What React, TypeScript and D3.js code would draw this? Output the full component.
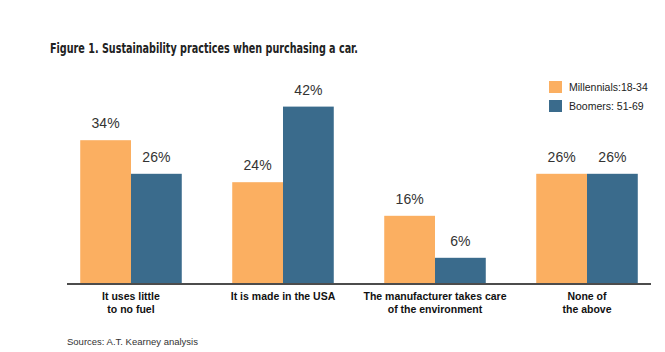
import * as d3 from 'd3';

const W = 665;
const H = 352;

// data
const categories = ['fuel', 'usa', 'environment', 'none'];
const categoryLabels = [
  ['It uses little', 'to no fuel'],
  ['It is made in the USA'],
  ['The manufacturer takes care', 'of the environment'],
  ['None of', 'the above'],
];
const seriesNames = ['Millennials:18-34', 'Boomers: 51-69'];
const millennials = [34, 24, 16, 26];
const boomers = [26, 42, 6, 26];
const seriesColors = ['#FBAF61', '#3A6B8C'];

const AXIS = { left: 67, right: 651, baseline: 283 };

export default function App() {
  const x0 = d3
    .scaleBand<string>()
    .domain(categories)
    .range([AXIS.left, AXIS.right])
    .paddingInner(0.332)
    .paddingOuter(0.087);

  const x1 = d3
    .scaleBand<number>()
    .domain([0, 1])
    .range([0, x0.bandwidth()]);

  // 4.2 px per percentage point
  const y = d3.scaleLinear().domain([0, 50]).range([AXIS.baseline, AXIS.baseline - 210]);

  const series = [millennials, boomers];

  return (
    <svg width={W} height={H} style={{ position: 'absolute', left: 0, top: 0, background: '#fff' }}>
      {/* Titel */}
      <text
        x={50}
        y={53}
        fontFamily="'DejaVu Sans Condensed', 'DejaVu Sans', sans-serif"
        fontWeight="bold"
        fontSize={14.5}
        fill="#222"
        textLength={308}
        lengthAdjust="spacingAndGlyphs"
      >
        Figure 1. Sustainability practices when purchasing a car.
      </text>

      {/* Balken */}
      {categories.map((c, i) => (
        <g key={c} transform={`translate(${x0(c)},0)`}>
          {series.map((vals, s) => (
            <g key={s}>
              <rect
                x={x1(s)}
                y={y(vals[i])}
                width={x1.bandwidth()}
                height={AXIS.baseline - y(vals[i])}
                fill={seriesColors[s]}
              />
              <text
                x={x1(s)! + x1.bandwidth() / 2}
                y={y(vals[i]) - 12}
                textAnchor="middle"
                fontFamily="'Liberation Sans', Arial, sans-serif"
                fontSize={14}
                fill="#333"
              >
                {vals[i]}%
              </text>
            </g>
          ))}
          {categoryLabels[i].map((line, k) => (
            <text
              key={k}
              x={x0.bandwidth() / 2}
              y={300 + k * 12.5}
              textAnchor="middle"
              fontFamily="'Liberation Sans', Arial, sans-serif"
              fontWeight="bold"
              fontSize={10.5}
              fill="#111"
            >
              {line}
            </text>
          ))}
        </g>
      ))}

      {/* Achse */}
      <line x1={AXIS.left} x2={AXIS.right} y1={284} y2={284} stroke="#111" strokeWidth={1.5} />

      {/* Legende */}
      {seriesNames.map((name, s) => (
        <g key={name} transform={`translate(549,${81 + s * 19})`}>
          <rect width={13} height={12} fill={seriesColors[s]} />
          <text
            x={20}
            y={10}
            fontFamily="'Liberation Sans', Arial, sans-serif"
            fontSize={10.5}
            fill="#222"
          >
            {name}
          </text>
        </g>
      ))}

      <text x={67} y={345} fontFamily="'Liberation Sans', Arial, sans-serif" fontSize={9.5} fill="#333">
        Sources: A.T. Kearney analysis
      </text>
    </svg>
  );
}
